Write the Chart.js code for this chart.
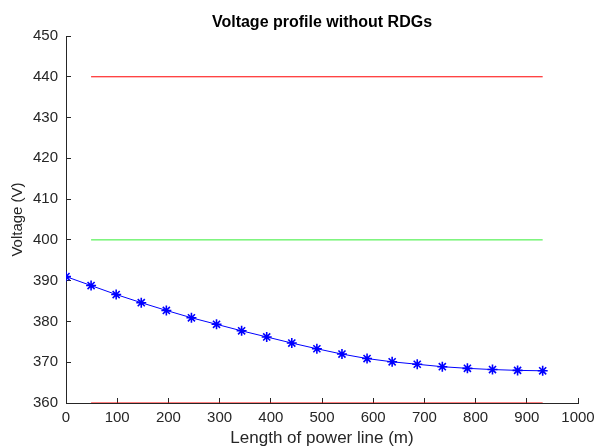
<!DOCTYPE html>
<html lang="en">
    <head>
        <meta charset="UTF-8" />
        <title>Voltage profile without RDGs</title>
        <script src="https://cdn.jsdelivr.net/npm/chart.js@4.4.1/dist/chart.umd.min.js"></script>
    </head>
    <style>
        body {
            margin: 0;
            background: #ffffff;
        }
        div.main {
            width: 597px;
            height: 446px;
        }
    </style>

    <body>
        <div class="main">
            <canvas id="myChart" width="597" height="446"></canvas>
        </div>

        <script>
            // distance along the line (m) and bus voltage (V)
            const lengths = [0, 49, 98, 147, 196, 245, 294, 343, 392, 441, 490, 539, 588, 637, 686, 735, 784, 833, 882, 931];
            const voltages = [391.0, 388.8, 386.6, 384.6, 382.7, 380.9, 379.3, 377.7, 376.2, 374.7, 373.3, 372.0, 370.9, 370.1, 369.5, 368.9, 368.5, 368.2, 368.0, 367.9];

            // limit lines
            const limitStart = 49;
            const limitEnd = 931;
            const upperLimit = 440;
            const nominal = 400;
            const lowerLimit = 360;

            const xTicks = [0, 100, 200, 300, 400, 500, 600, 700, 800, 900, 1000];
            const yTicks = [360, 370, 380, 390, 400, 410, 420, 430, 440, 450];

            const axisColor = "#262626";
            const fontFamily = "'Liberation Sans', Arial, sans-serif";

            window.addEventListener("load", setup);

            function hLine(y) {
                return [
                    { x: limitStart, y: y },
                    { x: limitEnd, y: y },
                ];
            }

            // MATLAB-like title centred over the plot box
            const plotTitle = {
                id: "plotTitle",
                afterDraw(chart) {
                    const c = chart.ctx;
                    const area = chart.chartArea;
                    c.save();
                    c.font = "bold 16px " + fontFamily;
                    c.fillStyle = "#000000";
                    c.textAlign = "center";
                    c.textBaseline = "middle";
                    c.fillText("Voltage profile without RDGs", (area.left + area.right) / 2, 23);
                    c.restore();
                },
            };

            function setup() {
                const ctx = document.getElementById("myChart").getContext("2d");
                const myChart = new Chart(ctx, {
                    type: "scatter",
                    data: {
                        datasets: [
                            {
                                label: "upper",
                                data: hLine(upperLimit),
                                showLine: true,
                                borderColor: "#ff0000",
                                borderWidth: 1,
                                pointRadius: 0,
                            },
                            {
                                label: "nominal",
                                data: hLine(nominal),
                                showLine: true,
                                borderColor: "#33ee33",
                                borderWidth: 1,
                                pointRadius: 0,
                            },
                            {
                                label: "lower",
                                data: hLine(lowerLimit),
                                showLine: true,
                                borderColor: "#ff0000",
                                borderWidth: 1,
                                pointRadius: 0,
                            },
                            {
                                label: "Voltage",
                                data: lengths.map((x, i) => ({ x: x, y: voltages[i] })),
                                showLine: true,
                                borderColor: "#0000ff",
                                backgroundColor: "#0000ff",
                                borderWidth: 1,
                                pointStyle: "star",
                                pointRadius: 5,
                                pointBorderWidth: 1.6,
                                pointBorderColor: "#0000ff",
                            },
                        ],
                    },
                    plugins: [plotTitle],
                    options: {
                        responsive: false,
                        animation: false,
                        layout: {
                            padding: { top: 36, right: 19, left: 0, bottom: 0 },
                        },
                        plugins: {
                            legend: { display: false },
                            tooltip: { enabled: false },
                        },
                        scales: {
                            x: {
                                type: "linear",
                                min: 0,
                                max: 1000,
                                afterBuildTicks: (scale) => {
                                    scale.ticks = xTicks.map((v) => ({ value: v }));
                                },
                                afterFit: (scale) => {
                                    scale.height = 43;
                                    scale.paddingRight = 0;
                                },
                                grid: {
                                    drawOnChartArea: false,
                                    drawTicks: true,
                                    tickLength: -5,
                                    color: axisColor,
                                },
                                border: { display: true, color: axisColor, width: 1 },
                                ticks: {
                                    color: axisColor,
                                    padding: 11,
                                    maxRotation: 0,
                                    callback: (v) => String(v),
                                    font: { family: fontFamily, size: 15 },
                                },
                                title: {
                                    display: true,
                                    text: "Length of power line (m)",
                                    color: axisColor,
                                    padding: { top: 0, bottom: -1 },
                                    font: { family: fontFamily, size: 17, lineHeight: 1 },
                                },
                            },
                            y: {
                                type: "linear",
                                min: 360,
                                max: 450,
                                afterBuildTicks: (scale) => {
                                    scale.ticks = yTicks.map((v) => ({ value: v }));
                                },
                                afterFit: (scale) => {
                                    scale.width = 66;
                                },
                                grid: {
                                    drawOnChartArea: false,
                                    drawTicks: true,
                                    tickLength: -5,
                                    color: axisColor,
                                },
                                border: { display: true, color: axisColor, width: 1 },
                                ticks: {
                                    color: axisColor,
                                    padding: 13,
                                    font: { family: fontFamily, size: 15 },
                                },
                                title: {
                                    display: true,
                                    text: "Voltage (V)",
                                    color: axisColor,
                                    padding: { top: 9, bottom: 0 },
                                    font: { family: fontFamily, size: 15 },
                                },
                            },
                        },
                    },
                });
            }
        </script>
    </body>
</html>
